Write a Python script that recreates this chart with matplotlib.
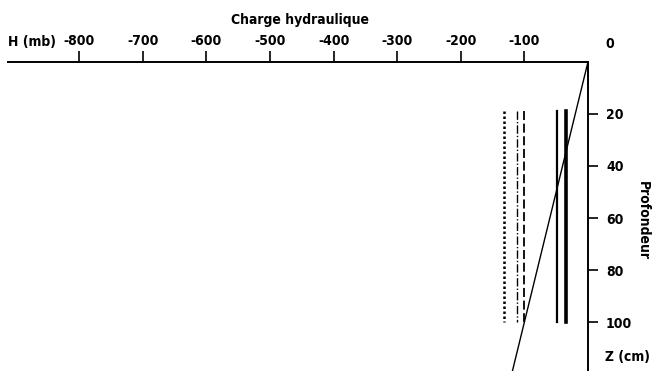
import matplotlib
matplotlib.use("Agg")
import matplotlib.pyplot as plt

# Data
x_ticks = [-800, -700, -600, -500, -400, -300, -200, -100]
x_tick_labels = ["-800", "-700", "-600", "-500", "-400", "-300", "-200", "-100"]
y_ticks = [20, 40, 60, 80, 100]
y_tick_labels = ["20", "40", "60", "80", "100"]

# vertical profiles: H value (mb), depth range (cm)
profile_H = [-132, -112, -100, -48, -35]
profile_z_top = [19, 19, 19, 19, 19]
profile_z_bot = [100, 100, 100, 100, 100]
profile_styles = [(0, (1, 1)), (0, (6, 1.5, 1, 1.5)), (0, (5, 2)), "-", "-"]
profile_widths = [1.8, 1.0, 1.3, 1.6, 2.6]

# diagonal (gravity potential line)
diag_H = [0, -120]
diag_z = [0, 120]

plt.rcParams["font.family"] = ["DejaVu Sans"]
plt.rcParams["font.stretch"] = "condensed"
plt.rcParams["font.weight"] = "bold"
FS = 10

fig = plt.figure(figsize=(6.54, 3.71), dpi=100)
ax = fig.add_axes([0, 0, 1, 1])
ax.set_xlim(-924.5, 103.8)
ax.set_ylim(118.8, -23.8)
ax.patch.set_alpha(0)

for h, zt, zb, ls, lw in zip(profile_H, profile_z_top, profile_z_bot, profile_styles, profile_widths):
    ax.plot([h, h], [zt, zb], color="black", linestyle=ls, linewidth=lw)

ax.plot(diag_H, diag_z, color="black", linewidth=1.0)

for s in ["bottom", "left"]:
    ax.spines[s].set_visible(False)
ax.spines["top"].set_position(("data", 0))
ax.spines["top"].set_bounds(-912, 0)
ax.spines["top"].set_linewidth(1.4)
ax.spines["right"].set_position(("data", 0))
ax.spines["right"].set_bounds(0, 118.8)
ax.spines["right"].set_linewidth(1.4)

ax.xaxis.set_ticks_position("top")
ax.set_xticks(x_ticks)
ax.set_xticklabels(x_tick_labels, fontsize=FS, fontweight="bold", fontstretch="condensed")
ax.tick_params(axis="x", direction="out", length=8, width=1.2, pad=2)

ax.yaxis.set_ticks_position("right")
ax.set_yticks(y_ticks)
ax.set_yticklabels(y_tick_labels, fontsize=FS, fontweight="bold", fontstretch="condensed")
ax.tick_params(axis="y", direction="out", length=7, width=1.2, pad=6)

ax.text(-453, -16, "Charge hydraulique", ha="center", va="center", fontsize=FS, fontweight="bold", fontstretch="condensed")
ax.text(-912, -7.5, "H (mb)", ha="left", va="center", fontsize=FS, fontweight="bold", fontstretch="condensed")
ax.text(35, -7, "0", ha="center", va="center", fontsize=FS, fontweight="bold", fontstretch="condensed")
ax.text(87, 61, "Profondeur", ha="center", va="center", rotation=-90, fontsize=FS, fontweight="bold", fontstretch="condensed")
ax.text(27, 113.5, "Z (cm)", ha="left", va="center", fontsize=FS, fontweight="bold", fontstretch="condensed")

fig.savefig("out.png", dpi=100)
